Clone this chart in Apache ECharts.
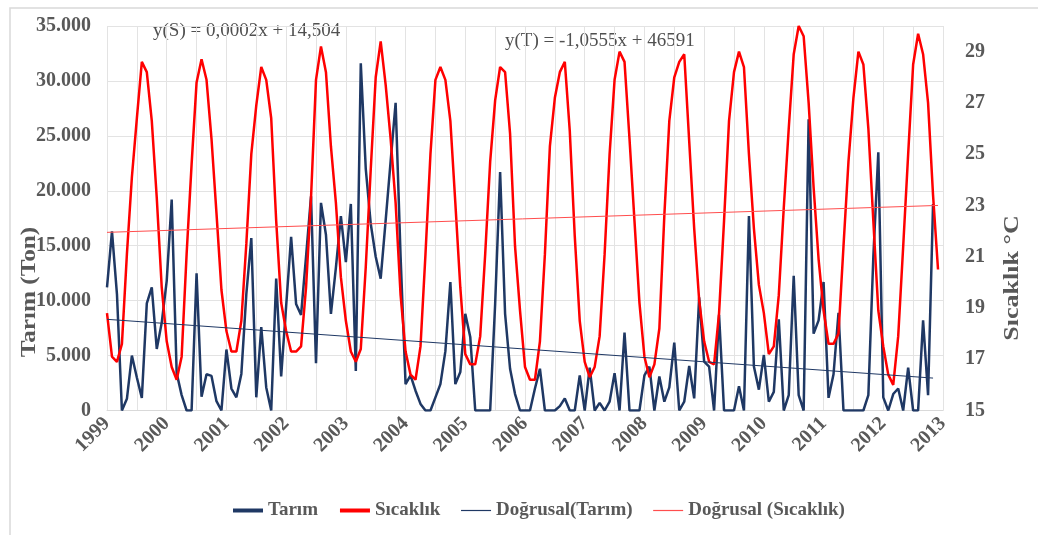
<!DOCTYPE html>
<html>
<head>
<meta charset="utf-8">
<script src="https://cdn.jsdelivr.net/npm/echarts@6/dist/echarts.min.js"></script>
<style>
  html, body { margin: 0; padding: 0; background: #fff; }
  #chart { width: 1038px; height: 535px; }
</style>
</head>
<body>
<div id="chart"></div>
<script>
  // x labels, one per 12 months
  const years = ['1999', '2000', '2001', '2002', '2003', '2004', '2005', '2006',
    '2007', '2008', '2009', '2010', '2011', '2012', '2013']
  const leftTicks = ['0', '5.000', '10.000', '15.000', '20.000', '25.000', '30.000', '35.000']

  // monthly values, Jan 1999 onwards
  const tarim = [
    11200, 16300, 10600, 0, 1060, 5000, 3000, 1150, 9750, 11200, 5600, 8000,
    11800, 19200, 3400, 1400, 0, 0, 12500, 1250, 3300, 3150, 850, 0,
    5550, 2000, 1200, 3330, 10600, 15700, 1200, 7600, 2100, 0, 12000, 3100,
    9500, 15800, 9700, 8700, 14000, 19500, 4300, 18900, 16000, 8800, 13000, 17700,
    13500, 18800, 3600, 31600, 22000, 17000, 14000, 12000, 17300, 22700, 28000, 14000,
    2400, 3200, 1800, 600, 0, 0, 1200, 2400, 5400, 11700, 2400, 3500,
    8800, 6700, 0, 0, 0, 0, 9700, 21700, 8800, 3800, 1500, 0,
    0, 0, 2000, 3800, 0, 0, 0, 400, 1100, 0, 0, 3200,
    0, 3900, 0, 700, 0, 800, 3400, 0, 7100, 0, 0, 0,
    3200, 4000, 0, 3100, 800, 2100, 6180, 0, 800, 4050, 1100, 10300,
    4450, 4000, 0, 8700, 0, 0, 0, 2200, 0, 17700, 4000, 1900,
    5050, 800, 1700, 8300, 0, 1400, 12250, 1400, 0, 26500, 7000, 8200,
    11700, 1150, 3300, 8900, 0, 0, 0, 0, 0, 1400, 14000, 23500,
    1200, 0, 1500, 2000, 0, 3900, 0, 0, 8200, 1400, 18800
  ]
  const sicaklik = [
    18.8, 17.1, 16.9, 17.6, 21.1, 24.1, 26.4, 28.6, 28.2, 26.3, 23.3, 19.8,
    17.7, 16.7, 16.2, 17.1, 21.1, 24.6, 27.8, 28.7, 27.9, 25.6, 22.7, 19.7,
    18.1, 17.3, 17.3, 18.5, 21.5, 25.0, 26.9, 28.4, 27.9, 26.4, 22.4, 19.2,
    18.1, 17.3, 17.3, 17.5, 19.8, 23.3, 27.9, 29.2, 28.2, 25.3, 23.1, 20.2,
    18.5, 17.3, 16.9, 17.4, 20.6, 24.4, 28.0, 29.4, 27.7, 25.6, 23.1, 19.5,
    17.3, 16.4, 16.2, 17.5, 21.1, 25.0, 27.9, 28.4, 27.9, 26.3, 23.1, 19.8,
    17.2, 16.8, 16.8, 17.9, 21.1, 24.7, 27.1, 28.4, 28.2, 25.8, 21.4, 18.9,
    16.7, 16.2, 16.2, 17.7, 21.1, 25.3, 27.2, 28.2, 28.6, 25.9, 21.8, 18.5,
    16.9, 16.3, 16.7, 17.9, 21.1, 25.0, 27.9, 29.0, 28.6, 25.6, 22.4, 19.2,
    17.1, 16.3, 16.8, 18.2, 22.6, 26.3, 28.0, 28.6, 28.9, 25.5, 22.1, 19.3,
    17.7, 16.9, 16.8, 18.8, 22.4, 26.3, 28.2, 29.0, 28.4, 25.0, 22.1, 19.9,
    18.8, 17.2, 17.5, 19.5, 22.9, 26.0, 28.9, 30.0, 29.6, 27.0, 23.7, 20.9,
    18.9, 17.6, 17.6, 18.0, 21.4, 24.7, 27.2, 29.0, 28.5, 26.0, 22.4, 18.9,
    17.5, 16.4, 16.0, 17.9, 21.4, 25.0, 28.5, 29.7, 28.9, 27.0, 23.4, 20.5
  ]
  // trend line end points
  const tarimTrend = [8300, 2950]
  const sicaklikTrend = [21.95, 23.0]

  const FONT = 'Liberation Serif'
  const GRAY = '#595959'
  const NAVY = '#1F3864'
  const RED = '#FF0000'

  const chart = echarts.init(document.getElementById('chart'))

  let option = {
    backgroundColor: '#fff',
    animation: false,
    textStyle: { fontFamily: FONT },
    grid: { left: 107, right: 95, top: 26, bottom: 124.5 },
    legend: {
      top: 496,
      left: 226,
      itemWidth: 30,
      itemHeight: 14,
      itemGap: 20,
      itemStyle: { opacity: 0 },
      textStyle: { fontFamily: FONT, fontSize: 19, fontWeight: 'bold', color: GRAY },
      data: [
        { name: 'Tarım', lineStyle: { width: 4 } },
        { name: 'Sıcaklık', lineStyle: { width: 4 } },
        { name: 'Doğrusal(Tarım)', lineStyle: { width: 1.2 } },
        { name: 'Doğrusal (Sıcaklık)', lineStyle: { width: 1.2 } }
      ]
    },
    xAxis: {
      type: 'value',
      min: 0,
      max: 168,
      interval: 12,
      axisLine: { show: true, lineStyle: { color: '#D9D9D9' } },
      axisTick: { show: false },
      splitLine: { show: true, lineStyle: { color: '#E3E3E3' } },
      minorTick: { show: false, splitNumber: 2 },
      minorSplitLine: { show: true, lineStyle: { color: '#E3E3E3' } },
      axisLabel: {
        rotate: 45,
        margin: 10,
        fontFamily: FONT, fontSize: 20, fontWeight: 'bold', color: GRAY,
        formatter: v => years[Math.round(v / 12)]
      }
    },
    yAxis: [
      {
        type: 'value',
        min: 0,
        max: 35000,
        interval: 5000,
        axisLine: { show: false },
        axisTick: { show: false },
        splitLine: { lineStyle: { color: '#E3E3E3' } },
        axisLabel: {
          margin: 16,
          fontFamily: FONT, fontSize: 20, fontWeight: 'bold', color: GRAY,
          formatter: v => leftTicks[Math.round(v / 5000)]
        }
      },
      {
        type: 'value',
        min: 15,
        max: 30,
        interval: 2,
        axisLine: { show: false },
        axisTick: { show: false },
        splitLine: { show: false },
        axisLabel: {
          margin: 22,
          showMaxLabel: false,
          fontFamily: FONT, fontSize: 20, fontWeight: 'bold', color: GRAY
        }
      }
    ],
    series: [
      {
        name: 'Tarım',
        type: 'line',
        symbol: 'none',
        yAxisIndex: 0,
        lineStyle: { color: NAVY, width: 2.5 },
        itemStyle: { color: NAVY },
        data: tarim.map((v, i) => [i, v])
      },
      {
        name: 'Sıcaklık',
        type: 'line',
        symbol: 'none',
        yAxisIndex: 1,
        lineStyle: { color: RED, width: 2.5 },
        itemStyle: { color: RED },
        data: sicaklik.map((v, i) => [i, v])
      },
      {
        name: 'Doğrusal(Tarım)',
        type: 'line',
        symbol: 'none',
        yAxisIndex: 0,
        lineStyle: { color: NAVY, width: 1 },
        itemStyle: { color: NAVY },
        data: [[0, tarimTrend[0]], [tarim.length - 1, tarimTrend[1]]]
      },
      {
        name: 'Doğrusal (Sıcaklık)',
        type: 'line',
        symbol: 'none',
        yAxisIndex: 1,
        lineStyle: { color: '#FF4D4D', width: 1 },
        itemStyle: { color: '#FF4D4D' },
        data: [[0, sicaklikTrend[0]], [sicaklik.length - 1, sicaklikTrend[1]]]
      }
    ],
    graphic: [
      {
        type: 'rect',
        silent: true,
        shape: { x: 10, y: 8, width: 1040, height: 540 },
        style: { fill: 'none', stroke: '#D9D9D9', lineWidth: 1.5 }
      },
      {
        type: 'text',
        left: 153, top: 22,
        style: { text: 'y(S) = 0,0002x + 14,504', font: '19px "Liberation Serif"', fill: '#505050' }
      },
      {
        type: 'text',
        left: 505, top: 32,
        style: { text: 'y(T) = -1,0555x + 46591', font: '19px "Liberation Serif"', fill: '#505050' }
      },
      {
        type: 'text',
        x: 30, y: 292, rotation: Math.PI / 2, scaleX: 1.2,
        style: {
          text: 'Tarım (Ton)', font: 'bold 21px "Liberation Serif"', fill: GRAY,
          align: 'center', verticalAlign: 'middle'
        }
      },
      {
        type: 'text',
        x: 1013, y: 278, rotation: Math.PI / 2, scaleX: 1.24,
        style: {
          text: 'Sıcaklık °C', font: 'bold 21px "Liberation Serif"', fill: GRAY,
          align: 'center', verticalAlign: 'middle'
        }
      }
    ]
  }
  chart.setOption(option)
</script>
</body>
</html>
